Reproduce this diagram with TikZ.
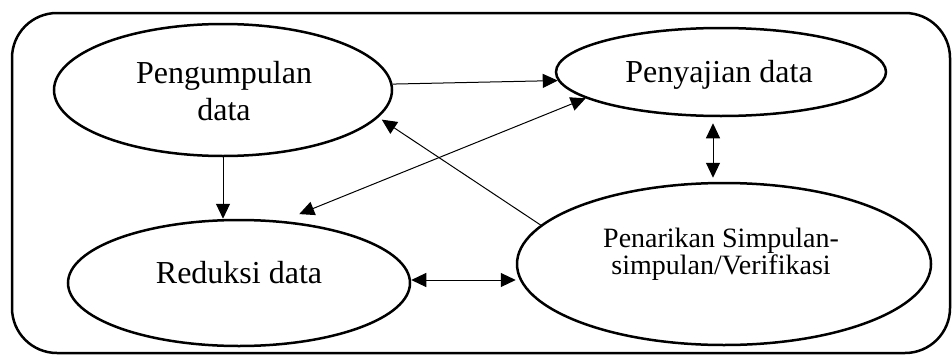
\documentclass[tikz,border=0pt]{standalone}
\usepackage{fontspec}
\setmainfont{Liberation Serif}
\usetikzlibrary{shapes.geometric,arrows.meta}
\begin{document}
\begin{tikzpicture}[x=1pt,y=-1pt,
  oval/.style={ellipse,draw,line width=2.5pt,inner sep=0pt},
  lbl/.style={align=center,inner sep=0pt,font=\fontsize{32}{37}\selectfont},
  conn/.style={line width=1pt,-{Triangle[length=15pt,width=14pt]}},
  dconn/.style={line width=1pt,{Triangle[length=15pt,width=14pt]}-{Triangle[length=15pt,width=14pt]}}]
\useasboundingbox (0,0) rectangle (952,356);
\draw[line width=2.5pt,rounded corners=45pt] (12,13) rectangle (950,353);
\node[oval,minimum width=338pt,minimum height=132pt] (E1) at (223,90) {};
\node[oval,minimum width=330pt,minimum height=88pt] (E2) at (721,72) {};
\node[oval,minimum width=342pt,minimum height=126pt] (E3) at (239,283) {};
\node[oval,minimum width=414pt,minimum height=162pt] (E4) at (724,264) {};
\node[lbl] (t1) at (224,90.6) {Pengumpulan\\data};
\node[lbl] (t2) at (719,74.5) {Penyajian data};
\node[lbl] (t3) at (239,272.4) {Reduksi data};
\node[lbl,font=\fontsize{28}{25}\selectfont] (t4) at (721,254) {Penarikan Simpulan-\\simpulan/Verifikasi};
\draw[conn] (E1.2) -- (E2.183);
\draw[conn] (E1.south) -- (E1.south |- E3.north);
\draw[conn,shorten >=4pt] (E4.168) -- (E1.-10);
\draw[dconn,shorten <=18pt] (E3.55) -- (E2.191);
\draw[dconn] ([xshift=-8pt,yshift=-6pt]E2.south) -- ([xshift=-8pt,yshift=4pt]E2.south |- E4.north);
\draw[dconn] ([yshift=3pt]E3.east) -- ([yshift=3pt]E3.east -| E4.west);
\end{tikzpicture}
\end{document}
